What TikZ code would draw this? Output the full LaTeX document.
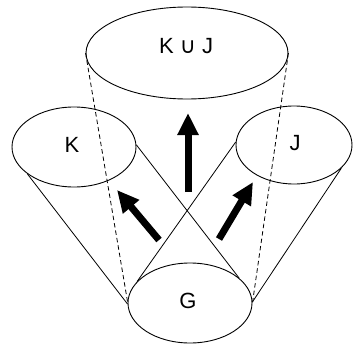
\documentclass[tikz,border=0pt]{standalone}
\usepackage{fontspec}
\setmainfont{Liberation Sans}
\newfontfamily\dejavu{DejaVu Sans}
\usetikzlibrary{shapes.geometric,arrows.meta}
\tikzset{
  set/.style={draw, ellipse, inner sep=0pt, line width=0.9pt},
  lbl/.style={font=\fontsize{22}{25}\selectfont, inner sep=0pt},
  cone/.style={line width=0.8pt},
  proj/.style={line width=0.8pt, dash pattern=on 4.5pt off 3pt},
  bigarrow/.style={line width=7pt, -{Triangle[length=22pt,width=20pt]}}
}
\begin{document}
\begin{tikzpicture}[x=1pt,y=-1pt]
\useasboundingbox (0,0) rectangle (353,345);
\node[set, minimum width=202pt, minimum height=92pt] (U) at (187,53) {};
\node[set, minimum width=124pt, minimum height=80pt] (K) at (74,147) {};
\node[set, minimum width=116pt, minimum height=78pt] (J) at (294,145) {};
\node[set, minimum width=124pt, minimum height=80pt] (G) at (190,303) {};
\node[lbl] (tU) at (186,46) {K {\dejavu ∪} J};
\node[lbl] (tK) at (72,145) {K};
\node[lbl] (tJ) at (295,143) {J};
\node[lbl] (tG) at (188,301) {G};
% cone K
\draw[cone] (K.210) -- (G.181);
\draw[cone] (K.2) -- (G.27);
% cone J
\draw[cone] (J.177) -- (G.158);
\draw[cone] (J.334) -- (G.1);
% projection to union
\draw[proj] (U.180) -- (G.179);
\draw[proj] (U.0) -- (G.0);
% arrows
\coordinate (a1s) at (188,192);
\coordinate (a1e) at (188,113);
\coordinate (a2s) at (159,240);
\coordinate (a2e) at (117,190);
\coordinate (a3s) at (219,239);
\coordinate (a3e) at (253,182);
\draw[bigarrow] (a1s) -- (a1e);
\draw[bigarrow] (a2s) -- (a2e);
\draw[bigarrow] (a3s) -- (a3e);
\end{tikzpicture}
\end{document}
